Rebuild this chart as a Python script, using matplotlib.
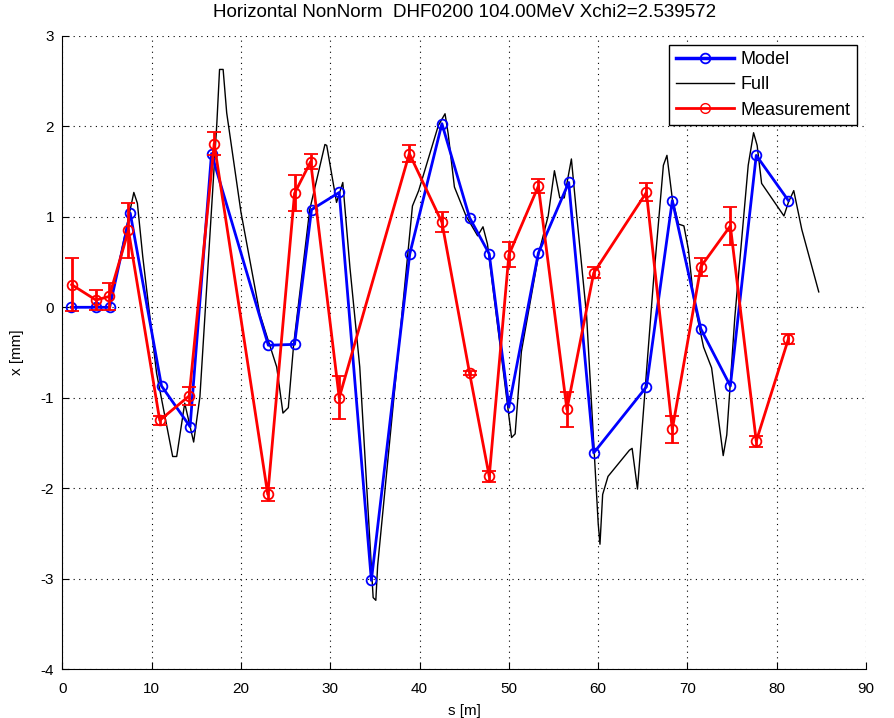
import numpy as np
import matplotlib
matplotlib.use('Agg')
import matplotlib.pyplot as plt
from matplotlib.lines import Line2D

# model orbit at BPMs
s_model = [1.0, 3.8, 5.3, 7.6, 11.1, 14.3, 16.7, 23.06, 26.0, 27.9, 31.0, 34.6, 38.9,
           42.5, 45.6, 47.8, 50.0, 53.3, 56.7, 59.5, 65.4, 68.3, 71.5, 74.8, 77.7, 81.3]
x_model = [0.0, 0.0, 0.0, 1.04, -0.87, -1.32, 1.70, -0.42, -0.41, 1.08, 1.27, -3.02, 0.59,
           2.03, 0.99, 0.59, -1.10, 0.60, 1.38, -1.61, -0.88, 1.18, -0.24, -0.87, 1.68, 1.18]

# full orbit
s_full = [0.9, 5.3, 8.0, 8.4, 9.0, 10.55, 12.35, 12.8, 13.7, 14.7, 15.4, 17.3, 17.6, 18.0,
          18.4, 20.0, 22.1, 22.9, 24.0, 24.7, 25.3, 25.9, 27.7, 29.4, 29.6, 30.7, 31.4,
          32.2, 33.3, 34.8, 35.1, 35.3, 39.2, 39.9, 42.1, 42.85, 43.2, 43.9, 45.2, 46.5,
          47.1, 47.6, 50.3, 50.7, 51.4, 53.4, 54.4, 55.1, 55.7, 56.2, 57.0, 57.6, 58.7,
          59.6, 60.0, 60.2, 60.5, 61.1, 63.5, 63.8, 64.4, 65.3, 66.2, 67.3, 67.7, 68.3,
          69.0, 69.6, 70.1, 70.7, 71.8, 72.7, 73.7, 74.0, 74.4, 75.3, 76.8, 77.4, 77.8,
          78.3, 80.8, 81.3, 81.9, 82.8, 84.7]
x_full = [0.0, 0.0, 1.27, 1.15, 0.56, -0.73, -1.65, -1.65, -1.06, -1.49, -0.99, 2.04, 2.63, 2.63,
          2.15, 1.05, -0.07, -0.32, -0.66, -1.17, -1.11, -0.41, 1.08, 1.80, 1.79, 1.16, 1.38,
          0.44, -0.66, -3.21, -3.24, -2.86, 1.12, 1.29, 2.01, 2.14, 1.92, 1.33, 1.01, 0.79,
          0.89, 0.70, -1.44, -1.40, -0.49, 0.62, 1.01, 1.51, 1.21, 1.21, 1.64, 1.01, -0.09,
          -1.68, -2.39, -2.62, -2.07, -1.87, -1.58, -1.56, -2.01, -0.85, 0.30, 1.57, 1.68, 1.20,
          0.92, 0.90, 0.64, 0.08, -0.44, -0.67, -1.41, -1.64, -1.41, -0.11, 1.57, 1.93, 1.79,
          1.37, 1.01, 1.16, 1.29, 0.86, 0.17]

# measurement
s_meas = [1.04, 3.76, 5.25, 7.4, 10.9, 14.2, 17.0, 23.0, 26.0, 27.8, 31.0, 38.85, 42.5,
          45.6, 47.8, 50.0, 53.3, 56.5, 59.5, 65.4, 68.3, 71.5, 74.8, 77.7, 81.3]
x_meas = [0.25, 0.08, 0.12, 0.85, -1.25, -0.98, 1.81, -2.07, 1.26, 1.61, -1.0, 1.70, 0.94,
          -0.73, -1.87, 0.58, 1.34, -1.13, 0.38, 1.27, -1.35, 0.45, 0.90, -1.48, -0.35]
x_err = [0.29, 0.11, 0.15, 0.30, 0.05, 0.10, 0.13, 0.07, 0.20, 0.08, 0.24, 0.09, 0.11,
         0.02, 0.06, 0.14, 0.08, 0.19, 0.06, 0.10, 0.15, 0.10, 0.21, 0.06, 0.055]

plt.rcParams['font.family'] = ['Liberation Sans', 'DejaVu Sans']
plt.rcParams['axes.unicode_minus'] = False

fig = plt.figure(figsize=(8.95, 7.18), dpi=100)
ax = fig.add_axes([0.0697, 0.0682, 0.898, 0.8817])

ax.plot(s_model, x_model, '-o', color='#0000ff', lw=2, ms=7, mfc='none', mew=1.3, zorder=3)
ax.plot(s_full, x_full, '-', color='black', lw=1, zorder=2)
ax.errorbar(s_meas, x_meas, yerr=x_err, fmt='-o', color='#ff0000', lw=2, ms=7, mfc='none',
            mew=1.3, elinewidth=2, capsize=5, capthick=2, zorder=4)

ax.set_xlim(0, 90)
ax.set_ylim(-4, 3)
ax.set_xticks(range(0, 91, 10))
ax.set_yticks(range(-4, 4))
ax.grid(True, color='black', linestyle=(0, (1, 4)), lw=0.8)
ax.spines['top'].set_visible(False)
ax.spines['right'].set_visible(False)
ax.tick_params(direction='in', labelsize=11, length=5)
ax.tick_params(axis='x', pad=9)
ax.tick_params(axis='y', pad=6)
ax.set_xlabel('s [m]', fontsize=11, labelpad=6)
ax.set_ylabel('x [mm]', fontsize=11, labelpad=12)
ax.set_title('Horizontal NonNorm  DHF0200 104.00MeV Xchi2=2.539572', fontsize=13.5, pad=14)

handles = [Line2D([], [], color='#0000ff', lw=2.5, marker='o', ms=7, mfc='none', mew=1.3),
           Line2D([], [], color='black', lw=1),
           Line2D([], [], color='#ff0000', lw=2, marker='o', ms=7, mfc='none', mew=1)]
leg = ax.legend(handles, ['Model', 'Full', 'Measurement'], loc='upper right', fontsize=13,
                fancybox=False, edgecolor='black', framealpha=1, borderaxespad=0.5,
                handlelength=3.2, handletextpad=0.4, labelspacing=0.45, borderpad=0.35)
leg.get_frame().set_linewidth(1)

plt.savefig('out.png', dpi=100)
